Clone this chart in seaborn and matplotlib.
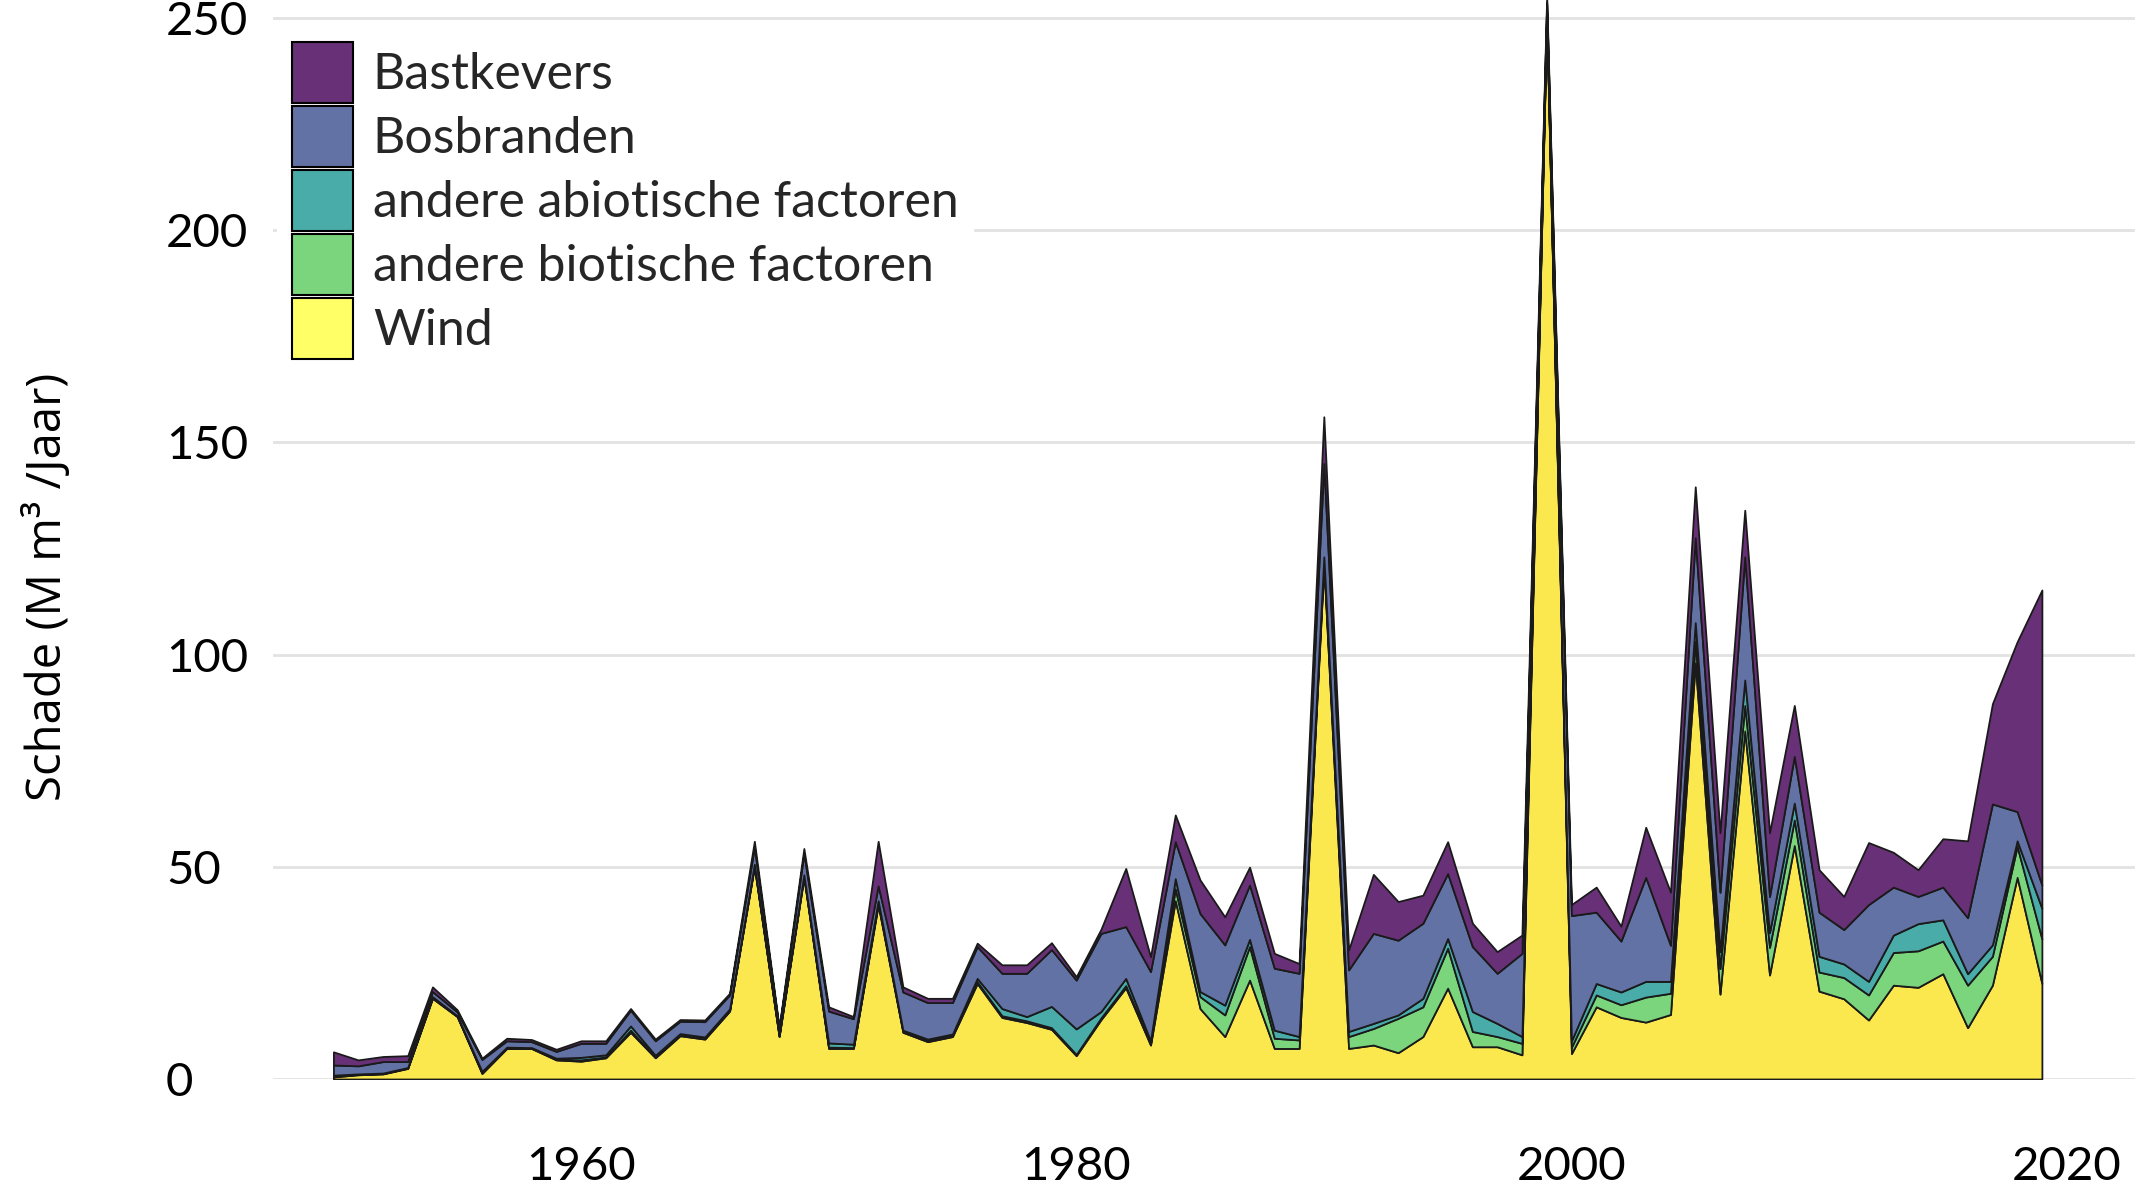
import numpy as np
import pandas as pd
import seaborn as sns
import matplotlib
matplotlib.use("Agg")
import matplotlib.pyplot as plt
from matplotlib.patches import Patch

years = list(range(1950, 2020))

wind = [0.5, 1.0, 1.2, 2.5, 19, 14.7, 1.3, 7.2, 7.2, 4.5,
        4.2, 5.0, 11.0, 5.0, 10.2, 9.4, 16.0, 50, 10, 47.5,
        7.2, 7.2, 41, 11, 8.8, 10, 22.5, 14.5, 13.3, 11.7,
        5.5, 14, 21.5, 8, 42, 16.6, 10, 23.3, 7.2, 7.2,
        121, 7.2, 8, 6.2, 10, 21.4, 7.6, 7.6, 5.7, 250,
        6, 17, 14.5, 13.4, 15.2, 98, 20, 82, 24.5, 55,
        20.7, 18.9, 13.9, 22.1, 21.6, 24.8, 12.1, 22.1, 47.5, 22.5]
biotic = [0.2, 0.1, 0.1, 0.1, 0.2, 0.1, 0.2, 0.1, 0.1, 0.2,
          0.3, 0.2, 0.5, 0.2, 0.2, 0.2, 0.2, 0.3, 0.2, 0.3,
          0.3, 0.2, 0.5, 0.3, 0.3, 0.3, 0.4, 0.4, 0.4, 0.4,
          0.3, 0.4, 0.5, 0.4, 2.8, 2.8, 5.1, 7.9, 2.4, 2.0,
          1.0, 2.8, 3.9, 8.1, 7.0, 9.4, 3.6, 2.4, 2.7, 0.5,
          1.5, 2.8, 3.0, 5.9, 5.0, 5.0, 6.0, 6.0, 6.5, 6.0,
          4.5, 5.0, 5.9, 7.7, 8.6, 7.7, 10.0, 6.8, 7.3, 10.5]
abiotic = [0.2, 0.1, 0.1, 0.1, 0.2, 0.1, 0.3, 0.2, 0.1, 0.2,
           0.6, 0.5, 1.0, 0.4, 0.3, 0.3, 0.3, 0.3, 0.2, 0.3,
           1.0, 0.8, 0.5, 0.2, 0.3, 0.3, 0.8, 1.7, 1.0, 5.0,
           6.0, 1.5, 1.7, 0.6, 2.4, 1.2, 2.3, 1.7, 1.9, 0.8,
           1.0, 1.2, 1.2, 0.8, 2.0, 2.3, 4.7, 3.1, 1.6, 0.5,
           1.5, 2.7, 3.0, 3.7, 2.8, 4.5, 4.0, 6.0, 3.5, 4.0,
           3.7, 3.2, 3.2, 4.1, 6.4, 5.0, 2.7, 2.7, 1.3, 7.2]
fires = [2.4, 1.9, 2.7, 1.4, 1.2, 0.9, 2.8, 1.5, 1.4, 1.6,
         3.3, 2.7, 3.7, 3.4, 2.9, 3.6, 3.3, 4.0, 1.4, 5.0,
         7.5, 6.0, 3.5, 9.0, 8.6, 7.4, 7.5, 8.3, 10.2, 13.4,
         11.5, 18.4, 12.2, 16.3, 8.7, 18.4, 14.2, 12.8, 14.6, 14.9,
         22, 14.5, 21.2, 17.6, 17.7, 15.3, 15.3, 11.8, 19.6, 2.5,
         29.5, 16.8, 12.0, 24.5, 8.5, 20, 14, 29, 8.5, 11,
         10.4, 8.1, 18.1, 11.3, 6.4, 7.7, 13.2, 33.2, 6.9, 5.5]
beetles = [3.1, 1.4, 1.2, 1.4, 1.1, 0.5, 0.3, 0.6, 0.5, 0.5,
           0.6, 0.6, 0.4, 0.4, 0.4, 0.4, 0.4, 1.4, 0.4, 1.2,
           1.0, 0.5, 10.5, 1.2, 1.0, 1.0, 0.8, 2.0, 2.0, 1.6,
           0.8, 1.0, 13.7, 3.5, 6.3, 7.9, 6.6, 4.2, 3.5, 2.3,
           11, 4.7, 13.9, 9.1, 6.6, 7.5, 5.5, 5.1, 4.3, 1.5,
           2.6, 5.9, 3.5, 11.8, 12.5, 12, 14, 11, 15, 12,
           10.0, 7.8, 14.6, 8.2, 6.3, 11.4, 18.1, 23.6, 40, 69.5]

labels = ["Wind", "andere biotische factoren", "andere abiotische factoren",
          "Bosbranden", "Bastkevers"]
area_colors = ["#FBE84F", "#7AD57C", "#49ACA9", "#6272A5", "#683177"]
legend_colors = ["#FFFF66", "#7AD57C", "#49ACA9", "#6272A5", "#683177"]

x_ticks = [1960, 1980, 2000, 2020]
y_ticks = [0, 50, 100, 150, 200, 250]

df = pd.DataFrame({"year": years, labels[0]: wind, labels[1]: biotic,
                   labels[2]: abiotic, labels[3]: fires, labels[4]: beetles})

sns.set_theme(style="whitegrid")
plt.rcParams["font.family"] = ["Lato", "DejaVu Sans"]

fig = plt.figure(figsize=(21.39, 11.89), dpi=100)
ax = fig.add_axes([273 / 2139, 110 / 1189, 1862 / 2139, 1079 / 1189])

ax.stackplot(df["year"], [df[l] for l in labels], colors=area_colors,
             edgecolor="#1a1a1a", linewidth=1.3, zorder=3)

ax.set_xlim(1947.56, 2022.76)
ax.set_ylim(0, 1079 / 4.245)
ax.set_xticks(x_ticks)
ax.set_yticks(y_ticks)
ax.grid(axis="y", color="#e2e2e2", linewidth=2)
ax.grid(axis="x", visible=False)
for s in ax.spines.values():
    s.set_visible(False)
ax.tick_params(axis="both", length=0, labelsize=34, labelcolor="black")
ax.tick_params(axis="x", pad=48)
ax.tick_params(axis="y", pad=77)
for lab in ax.get_yticklabels():
    lab.set_horizontalalignment("left")

ax.set_ylabel("Schade (M m³ /Jaar)", fontsize=34, family=["Open Sans", "DejaVu Sans"],
              color="black")
ax.yaxis.set_label_coords(-0.108, 0.456)

handles = [Patch(facecolor=c, edgecolor="black", linewidth=1.5) for c in legend_colors]
leg = ax.legend(handles[::-1], labels[::-1], loc="upper left",
                bbox_to_anchor=(0.002, 0.975), fontsize=36,
                handlelength=1.22, handleheight=1.5, handletextpad=0.4,
                labelspacing=0.06, borderpad=0.3, borderaxespad=0.0,
                frameon=True, fancybox=False, framealpha=1.0)
leg.get_frame().set_edgecolor("white")
leg.get_frame().set_facecolor("white")
leg.set_zorder(5)

fig.savefig("out.png", dpi=100)
